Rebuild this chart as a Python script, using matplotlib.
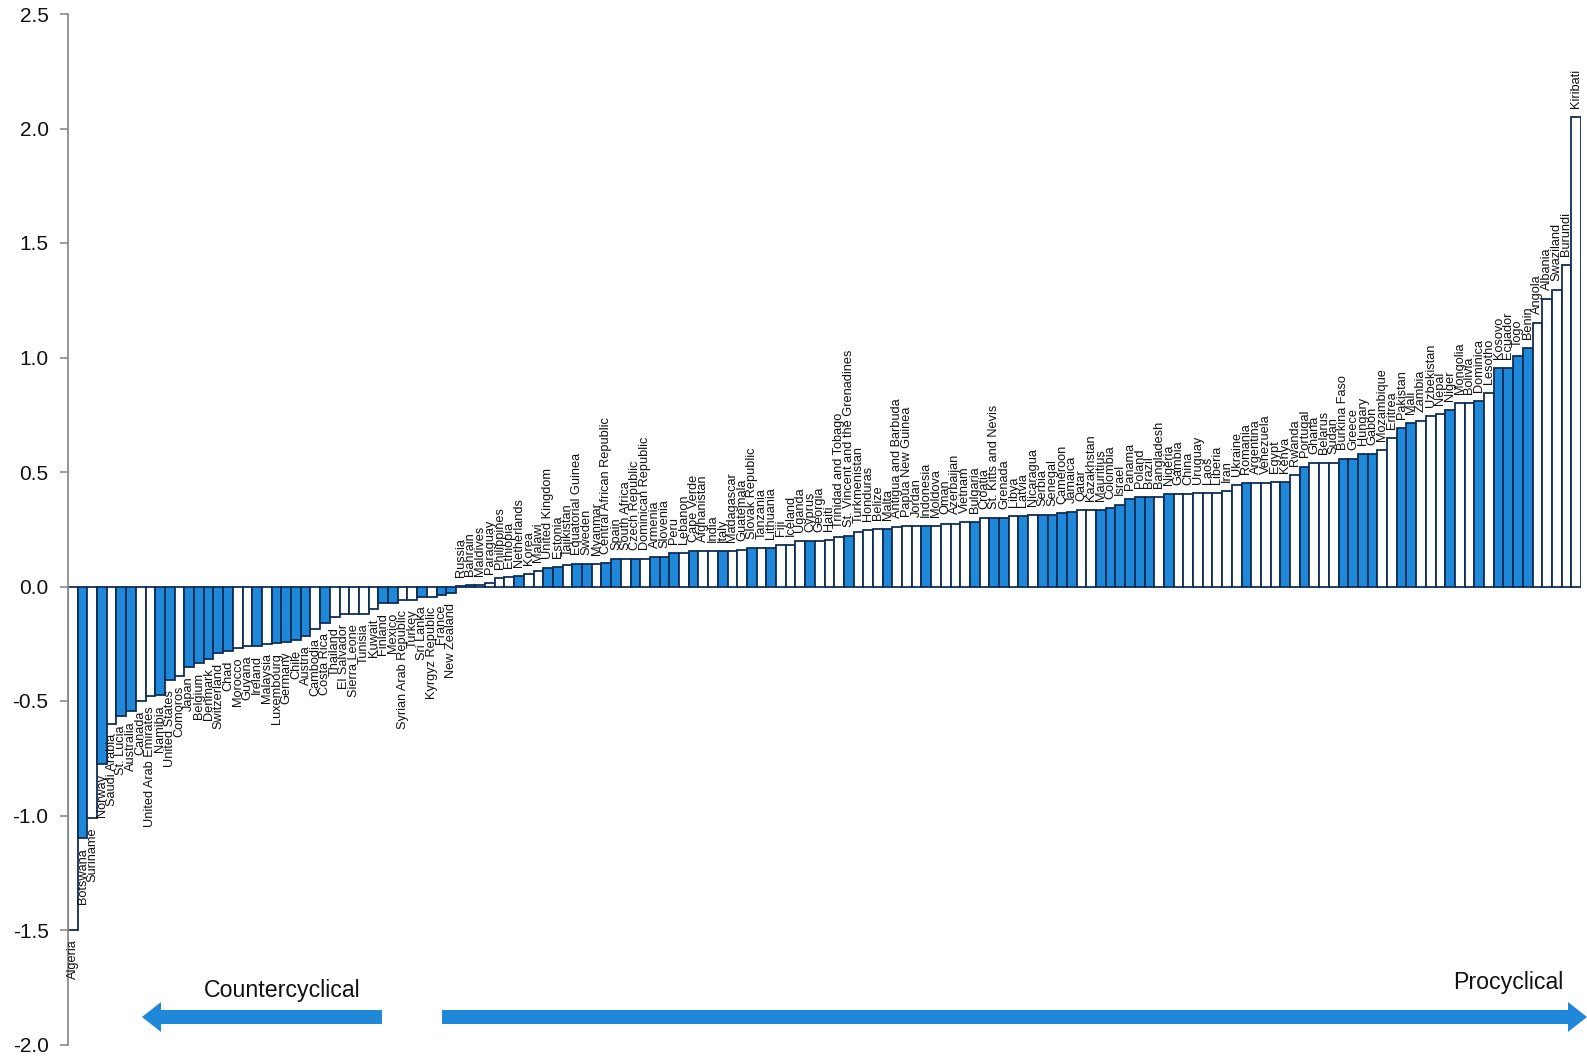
import matplotlib
matplotlib.use("Agg")
import matplotlib.pyplot as plt
from matplotlib.patches import Polygon
from matplotlib.transforms import IdentityTransform
import numpy as np

plt.rcParams['font.family'] = ['Liberation Sans', 'DejaVu Sans']
plt.rcParams['axes.unicode_minus'] = False

# Countries ordered by cyclicality coefficient
countries = [
    "Algeria", "Botswana", "Suriname", "Norway", "Saudi Arabia", "St. Lucia",
    "Australia", "Canada", "United Arab Emirates", "Namibia", "United States",
    "Comoros", "Japan", "Belgium", "Denmark", "Switzerland", "Chad", "Morocco",
    "Guyana", "Ireland", "Malaysia", "Luxembourg", "Germany", "Chile", "Austria",
    "Cambodia", "Costa Rica", "Thailand", "El Salvador", "Sierra Leone",
    "Tunisia", "Kuwait", "Finland", "Mexico", "Syrian Arab Republic", "Turkey",
    "Sri Lanka", "Kyrgyz Republic", "France", "New Zealand",
    "Russia", "Bahrain", "Maldives", "Paraguay", "Philippines", "Ethiopia",
    "Netherlands", "Korea", "Malawi", "United Kingdom", "Estonia", "Tajikistan",
    "Equatorial Guinea", "Sweden", "Myanmar", "Central African Republic",
    "Spain", "South Africa", "Czech Republic", "Dominican Republic", "Armenia",
    "Slovenia", "Peru", "Lebanon", "Cape Verde", "Afghanistan", "India", "Italy",
    "Madagascar", "Guatemala", "Slovak Republic", "Tanzania", "Lithuania",
    "Fiji", "Iceland", "Uganda", "Cyprus", "Georgia", "Haiti",
    "Trinidad and Tobago", "St. Vincent and the Grenadines", "Turkmenistan",
    "Honduras", "Belize", "Malta", "Antigua and Barbuda", "Papua New Guinea",
    "Jordan", "Indonesia", "Moldova", "Oman", "Azerbaijan", "Vietnam",
    "Bulgaria", "Croatia", "St. Kitts and Nevis", "Grenada", "Libya", "Latvia",
    "Nicaragua", "Serbia", "Senegal", "Cameroon", "Jamaica", "Qatar",
    "Kazakhstan", "Mauritius", "Colombia", "Israel", "Panama", "Poland",
    "Brazil", "Bangladesh", "Nigeria", "Gambia", "China", "Uruguay", "Laos",
    "Liberia", "Iran", "Ukraine", "Romania", "Argentina", "Venezuela", "Egypt",
    "Kenya", "Rwanda", "Portugal", "Ghana", "Belarus", "Sudan", "Burkina Faso",
    "Greece", "Hungary", "Gabon", "Mozambique", "Eritrea", "Pakistan", "Mali",
    "Zambia", "Uzbekistan", "Nepal", "Niger", "Mongolia", "Bolivia", "Dominica",
    "Lesotho", "Kosovo", "Ecuador", "Togo", "Benin", "Angola", "Albania",
    "Swaziland", "Burundi", "Kiribati",
]

coefficients = [
    -1.50, -1.10, -1.01, -0.775, -0.60, -0.565, -0.545, -0.50, -0.48, -0.475,
    -0.41, -0.39, -0.35, -0.335, -0.315, -0.29, -0.28, -0.268, -0.26, -0.258,
    -0.25, -0.248, -0.242, -0.235, -0.215, -0.185, -0.16, -0.135, -0.12, -0.12,
    -0.12, -0.10, -0.072, -0.07, -0.06, -0.058, -0.045, -0.044, -0.035, -0.028,
    0.004, 0.005, 0.006, 0.015, 0.036, 0.043, 0.045, 0.054, 0.067, 0.079,
    0.086, 0.093, 0.100, 0.100, 0.100, 0.101, 0.122, 0.122, 0.122, 0.122,
    0.130, 0.130, 0.145, 0.145, 0.153, 0.153, 0.153, 0.153, 0.154, 0.160,
    0.167, 0.167, 0.167, 0.183, 0.183, 0.198, 0.198, 0.198, 0.205, 0.214,
    0.221, 0.237, 0.245, 0.252, 0.252, 0.260, 0.266, 0.266, 0.266, 0.266,
    0.275, 0.275, 0.282, 0.282, 0.297, 0.297, 0.297, 0.306, 0.306, 0.311,
    0.311, 0.311, 0.320, 0.326, 0.335, 0.335, 0.335, 0.344, 0.358, 0.381,
    0.389, 0.389, 0.389, 0.403, 0.403, 0.403, 0.410, 0.410, 0.410, 0.419,
    0.443, 0.451, 0.451, 0.451, 0.457, 0.457, 0.488, 0.524, 0.540, 0.540,
    0.540, 0.557, 0.557, 0.578, 0.578, 0.594, 0.649, 0.694, 0.716, 0.723,
    0.745, 0.753, 0.771, 0.800, 0.800, 0.810, 0.845, 0.955, 0.955, 1.005,
    1.040, 1.150, 1.255, 1.295, 1.405, 2.050,
]

# 1 = shaded (blue) bar, 0 = open (white) bar
shaded = [
    0, 1, 0, 1, 0, 1, 1, 0, 0, 1,
    1, 0, 1, 1, 1, 1, 1, 0, 0, 1,
    0, 1, 1, 1, 1, 0, 1, 0, 0, 0,
    0, 0, 1, 1, 0, 0, 1, 0, 1, 1,
    1, 1, 0, 0, 0, 0, 1, 0, 0, 1,
    1, 0, 1, 1, 0, 1, 1, 0, 1, 0,
    1, 1, 1, 0, 1, 0, 0, 1, 0, 0,
    1, 0, 1, 0, 0, 0, 1, 0, 0, 0,
    1, 0, 0, 0, 1, 0, 0, 0, 1, 0,
    0, 0, 0, 1, 0, 1, 1, 0, 1, 0,
    1, 1, 1, 1, 0, 0, 1, 1, 1, 1,
    1, 1, 0, 1, 0, 0, 0, 0, 0, 0,
    0, 1, 0, 0, 0, 1, 0, 1, 0, 0,
    0, 1, 1, 1, 1, 0, 0, 1, 1, 0,
    0, 0, 1, 0, 0, 1, 0, 1, 1, 1,
    1, 0, 0, 0, 0, 0,
]

yticks = [-2.0, -1.5, -1.0, -0.5, 0.0, 0.5, 1.0, 1.5, 2.0, 2.5]

BLUE = "#1f88d9"
EDGE = "#0f2e55"
W, H = 1587, 1059

fig = plt.figure(figsize=(W / 100, H / 100), dpi=100)
ax = fig.add_axes([68 / W, 1 - 1044.5 / H, (1581 - 68) / W, (1044.5 - 14) / H])

x = np.arange(len(countries))
fills = [BLUE if s else "white" for s in shaded]
ax.bar(x, coefficients, width=1.0, color=fills, edgecolor=EDGE, linewidth=1.3,
       zorder=2)

for xi, v, name in zip(x, coefficients, countries):
    if v >= 0:
        ax.annotate(name, (xi, v), xytext=(0, 6.5), textcoords="offset points",
                    rotation=90, ha="center", va="bottom", fontsize=9.2,
                    color="#111111")
    else:
        ax.annotate(name, (xi, v), xytext=(0, -7), textcoords="offset points",
                    rotation=90, ha="center", va="top", fontsize=9.2,
                    color="#111111")

ax.set_xlim(-0.5, len(countries) - 0.5)
ax.set_ylim(-2.0, 2.5)
ax.set_yticks(yticks)
ax.set_yticklabels([f"{t:.1f}" for t in yticks])
ax.set_xticks([])
for side in ("top", "right", "bottom"):
    ax.spines[side].set_visible(False)
ax.spines["left"].set_color("#8c8c8c")
ax.spines["left"].set_linewidth(1.3)
ax.tick_params(axis="y", direction="out", length=6, width=1.2, color="#8c8c8c",
               labelsize=15, pad=8, labelcolor="#111111")
ax.patch.set_visible(False)


def arrow(tail, tip, yc, shaft=7, head=15, head_len=19):
    """Block arrow drawn in figure pixel coordinates (y measured from top)."""
    y = H - yc
    d = 1 if tip > tail else -1
    base = tip - d * head_len
    pts = [(tail, y - shaft), (base, y - shaft), (base, y - head), (tip, y),
           (base, y + head), (base, y + shaft), (tail, y + shaft)]
    fig.patches.append(Polygon(pts, closed=True, transform=IdentityTransform(),
                               facecolor=BLUE, edgecolor="none"))


arrow(382, 142, 1017)
arrow(442, 1587, 1017)

fig.text(282 / W, 1 - 990 / H, "Countercyclical", ha="center", va="center",
         fontsize=16.7, color="#111111")
fig.text(1508 / W, 1 - 982 / H, "Procyclical", ha="center", va="center",
         fontsize=16.7, color="#111111")

fig.savefig("out.png", dpi=100)
